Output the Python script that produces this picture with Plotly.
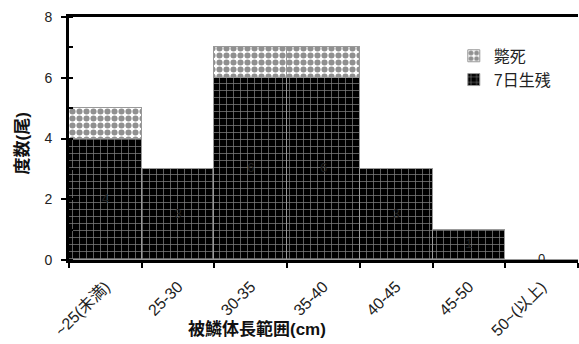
import plotly.graph_objects as go

categories = ["~25(未満)", "25-30", "30-35", "35-40", "40-45", "45-50", "50~(以上)"]
survived = [4, 3, 6, 6, 3, 1, 0]
dead = [1, 0, 1, 1, 0, 0, 0]
name_survived = "7日生残"
name_dead = "斃死"

FONT = "Liberation Sans, Arial, Noto Sans CJK JP, sans-serif"

fig = go.Figure()
fig.add_trace(go.Bar(
    x=categories, y=survived, name=name_survived, legendgroup="s",
    marker=dict(color="black", line=dict(color="#999999", width=1),
                pattern=dict(shape="+", fgcolor="white", bgcolor="black", size=7, solidity=0.2)),
))
fig.add_trace(go.Bar(
    x=categories, y=dead, name=name_dead, legendgroup="d",
    marker=dict(color="white", line=dict(color="#999999", width=1),
                pattern=dict(shape=".", fgcolor="#222222", bgcolor="white", size=7, solidity=0.6)),
))
fig.add_trace(go.Scatter(
    x=categories, y=[v / 2 for v in survived], text=[str(v) for v in survived],
    mode="text", textfont=dict(color="#222222", size=13, family=FONT),
    showlegend=False, hoverinfo="skip",
))

fig.update_layout(
    width=579, height=344,
    margin=dict(l=69, r=1, t=17, b=84),
    barmode="stack", bargap=0,
    plot_bgcolor="white", paper_bgcolor="white",
    font=dict(family=FONT, size=14, color="#222222"),
    legend=dict(x=0.756, y=0.91, xanchor="left", yanchor="top",
                font=dict(size=16, color="#222222"), bgcolor="rgba(0,0,0,0)",
                traceorder="reversed", tracegroupgap=18),
    showlegend=True,
)
fig.update_xaxes(
    automargin=False,
    showline=True, linecolor="black", linewidth=3, mirror=True,
    ticks="outside", ticklen=5, tickwidth=2, tickcolor="black",
    tickson="boundaries", tickangle=-45, ticklabelstandoff=8,
    tickfont=dict(size=16, color="#222222"),
    showgrid=False,
)
fig.update_yaxes(
    automargin=False,
    range=[0, 8], dtick=2, showline=True, linecolor="black", linewidth=3,
    ticks="outside", ticklen=5, tickwidth=2, tickcolor="black", ticklabelstandoff=6,
    minor=dict(dtick=1, ticks="inside", ticklen=4, tickcolor="black", tickwidth=2),
    showgrid=False, zeroline=False, tickfont=dict(size=14, color="#222222"),
)
fig.add_annotation(text="<b>被鱗体長範囲(cm)</b>", xref="paper", yref="paper",
                   x=0.37, y=-0.285, showarrow=False, yanchor="middle",
                   font=dict(size=17, color="#111111"))
fig.add_annotation(text="<b>度数(尾)</b>", xref="paper", yref="paper",
                   x=-0.092, y=0.48, showarrow=False, textangle=-90,
                   xanchor="center", yanchor="middle",
                   font=dict(size=17, color="#111111"))

fig.write_html(
    "out.html",
    config={"displayModeBar": False},
    post_script="document.body.style.margin='0';document.body.style.overflow='hidden';",
)
